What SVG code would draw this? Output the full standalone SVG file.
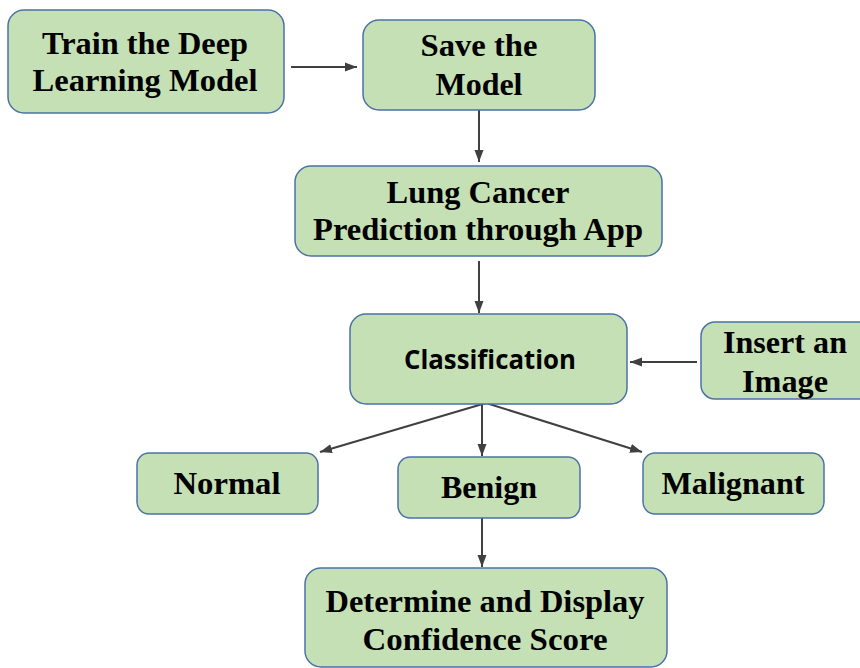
<svg xmlns="http://www.w3.org/2000/svg" width="860" height="668" viewBox="0 0 860 668">
  <style>
    .box { fill: #c5e0b4; stroke: #4a72a8; stroke-width: 1.5; }
    .lbl { font-family: "Liberation Serif", "Times New Roman", serif; font-weight: bold; font-size: 32px; fill: #000; text-anchor: middle; }
    .sans { font-family: "Open Sans", "Liberation Sans", sans-serif; font-weight: 700; font-size: 27px; fill: #000; text-anchor: middle; }
    .link { stroke: #404040; stroke-width: 2; fill: none; marker-end: url(#arrow); }
  </style>
  <defs>
    <marker id="arrow" markerUnits="userSpaceOnUse" markerWidth="14" markerHeight="12" viewBox="0 0 14 12" refX="12" refY="6" orient="auto">
      <path d="M0,1.5 L12,6 L0,10.5 Z" fill="#404040"/>
    </marker>
  </defs>

  <g id="connectors">
    <line class="link" x1="291" y1="67" x2="357" y2="67"/>
    <line class="link" x1="479" y1="110" x2="479" y2="162"/>
    <line class="link" x1="479" y1="261" x2="479" y2="313"/>
    <line class="link" x1="697" y1="362" x2="630" y2="362"/>
    <line class="link" x1="486" y1="403" x2="320" y2="452"/>
    <line class="link" x1="482" y1="404" x2="482" y2="456"/>
    <line class="link" x1="486" y1="403" x2="642" y2="452"/>
    <line class="link" x1="482" y1="518" x2="482" y2="567"/>
  </g>

  <g id="train">
    <rect class="box" x="8" y="10" width="276" height="103" rx="16"/>
    <text class="lbl" x="145" y="54" textLength="206" lengthAdjust="spacingAndGlyphs">Train the Deep</text>
    <text class="lbl" x="145" y="91" textLength="225" lengthAdjust="spacingAndGlyphs">Learning Model</text>
  </g>

  <g id="save">
    <rect class="box" x="363" y="20" width="232" height="90" rx="16"/>
    <text class="lbl" x="479" y="56" textLength="117" lengthAdjust="spacingAndGlyphs">Save the</text>
    <text class="lbl" x="479" y="95" textLength="87" lengthAdjust="spacingAndGlyphs">Model</text>
  </g>

  <g id="predict">
    <rect class="box" x="295" y="166" width="367" height="90" rx="16"/>
    <text class="lbl" x="478" y="203" textLength="183" lengthAdjust="spacingAndGlyphs">Lung Cancer</text>
    <text class="lbl" x="478" y="240" textLength="330" lengthAdjust="spacingAndGlyphs">Prediction through App</text>
  </g>

  <g id="classify">
    <rect class="box" x="350" y="314" width="277" height="90" rx="16"/>
    <text class="sans" x="490" y="369" textLength="172" lengthAdjust="spacingAndGlyphs">Classification</text>
  </g>

  <g id="insert">
    <rect class="box" x="701" y="322" width="172" height="77" rx="14"/>
    <text class="lbl" x="785" y="353" textLength="124" lengthAdjust="spacingAndGlyphs">Insert an</text>
    <text class="lbl" x="785" y="392" textLength="86" lengthAdjust="spacingAndGlyphs">Image</text>
  </g>

  <g id="normal">
    <rect class="box" x="137" y="453" width="181" height="61" rx="12"/>
    <text class="lbl" x="227" y="494" textLength="107" lengthAdjust="spacingAndGlyphs">Normal</text>
  </g>

  <g id="benign">
    <rect class="box" x="398" y="457" width="182" height="61" rx="12"/>
    <text class="lbl" x="489" y="498" textLength="96" lengthAdjust="spacingAndGlyphs">Benign</text>
  </g>

  <g id="malignant">
    <rect class="box" x="643" y="453" width="181" height="61" rx="12"/>
    <text class="lbl" x="733" y="494" textLength="143" lengthAdjust="spacingAndGlyphs">Malignant</text>
  </g>

  <g id="confidence">
    <rect class="box" x="305" y="568" width="362" height="99" rx="16"/>
    <text class="lbl" x="485" y="612" textLength="319" lengthAdjust="spacingAndGlyphs">Determine and Display</text>
    <text class="lbl" x="485" y="650" textLength="245" lengthAdjust="spacingAndGlyphs">Confidence Score</text>
  </g>
</svg>
